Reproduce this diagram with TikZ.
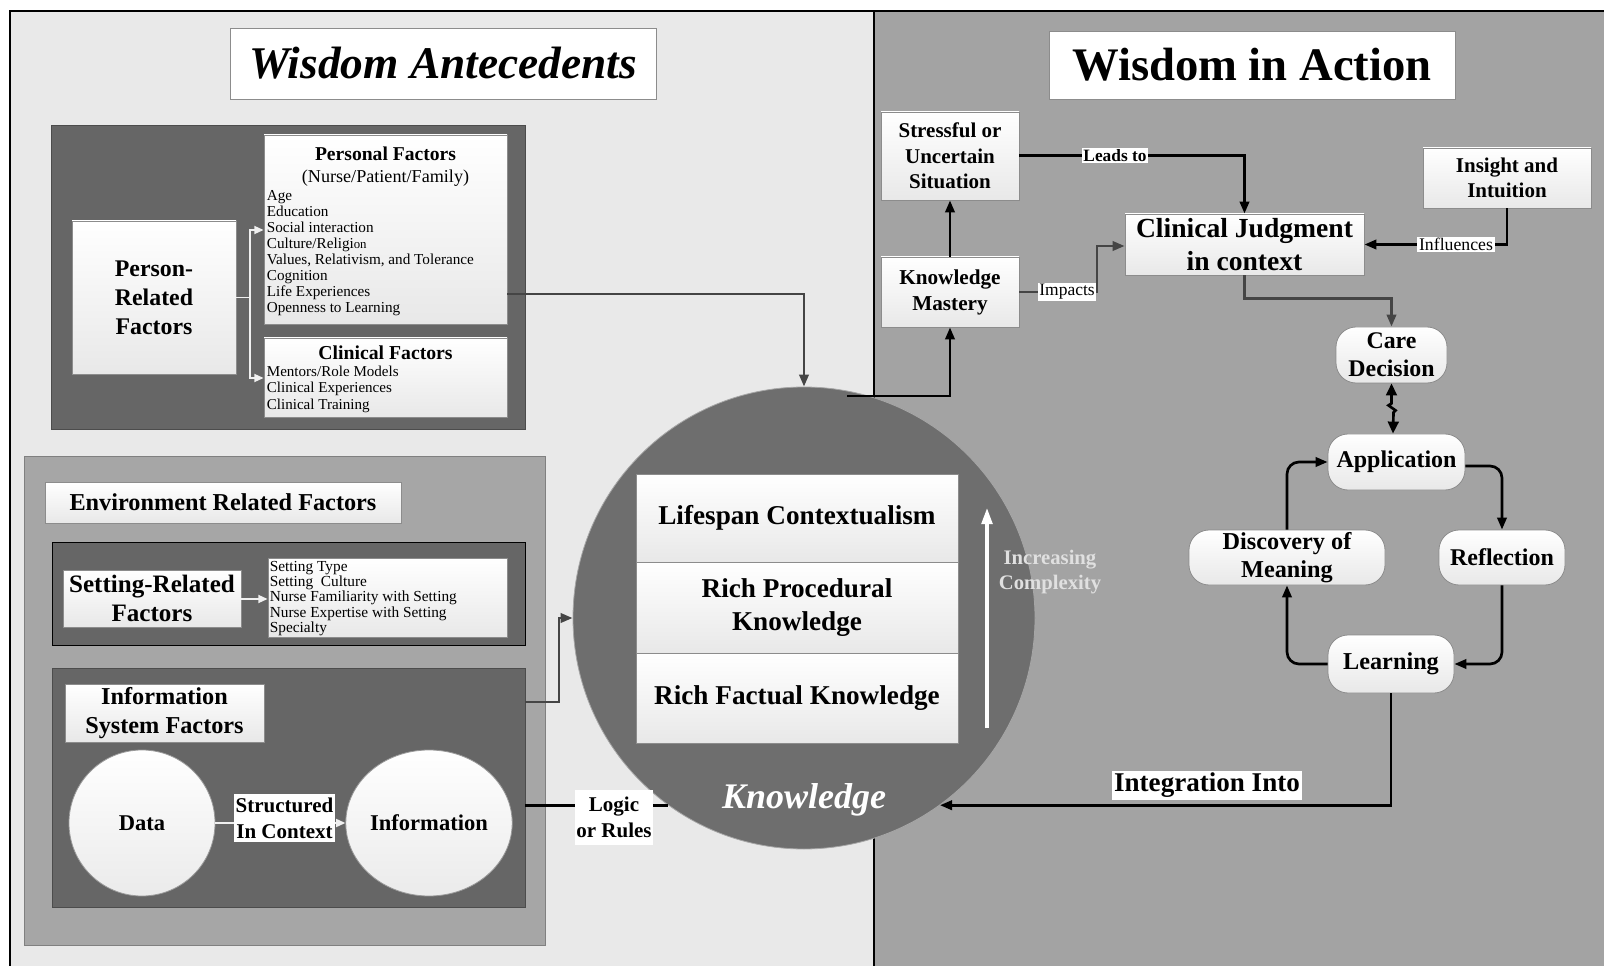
\documentclass[tikz,border=0pt]{standalone}
\usepackage{fontspec}
\setmainfont{Liberation Serif}
\usetikzlibrary{arrows.meta,fit,calc,shapes.geometric}

\definecolor{leftbg}{HTML}{E9E9E9}
\definecolor{rightbg}{HTML}{A3A3A3}
\definecolor{darkpanel}{HTML}{666666}
\definecolor{midpanel}{HTML}{A6A6A6}
\definecolor{knowfill}{HTML}{6E6E6E}
\definecolor{linkgray}{HTML}{454545}
\definecolor{paleline}{HTML}{F0F0F0}

\tikzset{
  x=0.75pt, y=-0.75pt,
  wbox/.style={draw=black!45, line width=0.6pt, top color=white, bottom color=black!9, inner sep=0pt},
  rbox/.style={wbox, rounded corners=15pt},
  titlebox/.style={draw=black!45, line width=0.6pt, fill=white, inner sep=0pt},
  panel/.style={fill=darkpanel, draw=black!70, line width=0.6pt, inner sep=0pt},
  tagbox/.style={fill=white, inner sep=0pt},
  tag/.style={fill=white, inner sep=1.2pt, align=center},
  txt/.style={inner sep=0pt, align=center},
  tipbig/.style={-{Triangle[length=9pt,width=7pt]}},
  blink/.style={draw=black, line width=2pt, tipbig},
  glink/.style={draw=linkgray, line width=2pt, tipbig},
  wlink/.style={draw=paleline, line width=1.4pt, -{Triangle[length=7pt,width=6pt]}},
  listtext/.style={anchor=north west, inner sep=0pt, align=left},
}

\begin{document}
\begin{tikzpicture}
\useasboundingbox (0,0) rectangle (1604,966);

% two halves of the frame
\fill[white] (0,0) rectangle (1604,966);
\fill[leftbg] (10,11) rectangle (874,966);
\fill[rightbg] (874,11) rectangle (1604,966);
\draw[line width=1.6pt] (10,966) -- (10,11) -- (1604,11);
\draw[line width=1.6pt] (874,11) -- (874,966);

% titles
\node[titlebox, fit={(230,28)(656,99)}] (titleA) {};
\node[txt, font=\fontsize{34}{40}\selectfont\bfseries\itshape] (titleA-t) at (titleA) {Wisdom Antecedents};
\node[titlebox, fit={(1049,31)(1455,99)}] (titleB) {};
\node[txt, font=\fontsize{35}{40}\selectfont\bfseries] (titleB-t) at (titleB) {Wisdom in Action};

% person-related factors
\node[panel, fit={(51,125)(525,429)}] (personpanel) {};
\node[wbox, fit={(72,221)(236,374)}] (prf) {};
\node[txt, font=\fontsize{17.9}{21.75}\selectfont\bfseries] (prf-t) at (prf) {Person-\\Related\\Factors};
\node[wbox, fit={(264,135)(507,324)}] (pf) {};
\node[txt, font=\fontsize{14.7}{17}\selectfont\bfseries] (pfhead) at ($(pf.north)+(0,19)$) {Personal Factors};
\node[txt, font=\fontsize{13.6}{16}\selectfont] (pfsub) at ($(pf.north)+(0,44)$) {(Nurse/Patient/Family)};
\node[listtext, font=\fontsize{11.4}{11.95}\selectfont] (pflist) at ($(pf.north west)+(3,56)$)
  {Age\\Education\\Social interaction\\Culture/Religi{\fontsize{9.6}{11}\selectfont on}\\Values, Relativism, and Tolerance\\Cognition\\Life Experiences\\Openness to Learning};
\node[wbox, fit={(264,338)(507,417)}] (cf) {};
\node[txt, font=\fontsize{14.8}{17}\selectfont\bfseries] (cfhead) at ($(cf.north)+(0,15)$) {Clinical Factors};
\node[listtext, font=\fontsize{11.3}{12.4}\selectfont] (cflist) at ($(cf.north west)+(3,28)$)
  {Mentors/Role Models\\Clinical Experiences\\Clinical Training};

\draw[paleline, line width=1.4pt] (prf.east) -- (250,297.5) coordinate (trunk);
\draw[wlink] (trunk) |- (pf.west |- 0,230);
\draw[wlink] (trunk) |- (cf.west |- 0,378);

% environment related factors
\node[fill=midpanel, draw=black!50, line width=0.6pt, inner sep=0pt, fit={(24,456)(545,945)}] (envpanel) {};
\node[wbox, fit={(45,482)(401,523)}] (envtitle) {};
\node[txt, font=\fontsize{18.2}{21}\selectfont\bfseries] (envtitle-t) at (envtitle) {Environment Related Factors};

\node[panel, draw=black, fit={(52,542)(525,645)}] (setpanel) {};
\node[wbox, fit={(63,570)(241,627)}] (setf) {};
\node[txt, font=\fontsize{18.8}{21.75}\selectfont\bfseries] (setf-t) at (setf) {Setting-Related\\Factors};
\node[wbox, fit={(268,558)(507,637)}] (setl) {};
\node[listtext, font=\fontsize{11.5}{11.55}\selectfont] (setltext) at ($(setl.north west)+(2,3)$)
  {Setting Type\\Setting~~Culture\\Nurse Familiarity with Setting\\Nurse Expertise with Setting\\Specialty};
\draw[wlink] (setf.east |- 0,599) -- (setl.west |- 0,599);

\node[panel, fit={(52,668)(525,907)}] (infpanel) {};
\node[wbox, fit={(65,684)(264,742)}] (inftitle) {};
\node[txt, font=\fontsize{18.2}{21.75}\selectfont\bfseries] (inftitle-t) at (inftitle) {Information\\System Factors};
\node[ellipse, draw=black!40, line width=0.6pt, top color=white, bottom color=black!8,
      minimum width=109.5pt, minimum height=109.5pt, inner sep=0pt,
      font=\fontsize{16.9}{20}\selectfont\bfseries] (data) at (142,823) {Data};
\node[ellipse, draw=black!40, line width=0.6pt, top color=white, bottom color=black!8,
      minimum width=112.5pt, minimum height=109.5pt, inner sep=0pt,
      font=\fontsize{16.9}{20}\selectfont\bfseries] (info) at (429,823) {Information};
\draw[wlink] (data.east) -- (info.west);
\node[tagbox, fit={(234,794)(335,842)}] (structured) {};
\node[txt, font=\fontsize{15.75}{19.5}\selectfont\bfseries] (structured-t) at (structured) {Structured\\In Context};

% knowledge circle
\node[circle, fill=knowfill, draw=black!35, line width=0.6pt, minimum size=346.5pt, inner sep=0pt] (kn) at (804,618) {};
\node[wbox, fit={(636,474)(958,562)}] (lifespan) {};
\node[txt, font=\fontsize{20.4}{24.75}\selectfont\bfseries] (lifespan-t) at (lifespan) {Lifespan Contextualism};
\node[wbox, fit={(636,562)(958,653)}] (proc) {};
\node[txt, font=\fontsize{20.4}{24.75}\selectfont\bfseries] (proc-t) at (proc) {Rich Procedural\\Knowledge};
\node[wbox, fit={(636,653)(958,743)}] (fact) {};
\node[txt, font=\fontsize{20.4}{24.75}\selectfont\bfseries] (fact-t) at (fact) {Rich Factual Knowledge};
\coordinate (cxlow) at (987,728);
\coordinate (cxhigh) at (987,508);
\draw[white, line width=2.4pt, -{Triangle[length=12pt,width=8pt]}] (cxlow) -- (cxhigh);
\node[txt, font=\fontsize{15.5}{18.4}\selectfont\bfseries, text=black!12] (cxtext) at (1050,572) {Increasing\\Complexity};
\node[txt, font=\fontsize{27}{30}\selectfont\bfseries\itshape, text=white] (knlabel) at (804,800) {Knowledge};

% links into the circle
\draw[glink] (pf.east |- 0,294) -| (kn.north);
\draw[glink] (infpanel.east |- 0,702) -- (559,702) |- (kn.west);
\draw[line width=2.2pt] (infpanel.east |- kn.234.5) -- (kn.234.5);
\node[tagbox, fit={(575,790)(653,845)}] (logic) {};
\node[txt, font=\fontsize{15.75}{19.5}\selectfont\bfseries] (logic-t) at (logic) {Logic\\or Rules};

% wisdom in action
\node[wbox, fit={(881,112)(1019,200)}] (stress) {};
\node[txt, font=\fontsize{15.75}{19.2}\selectfont\bfseries] (stress-t) at (stress) {Stressful or\\Uncertain\\Situation};
\node[wbox, fit={(881,257)(1019,327)}] (km) {};
\node[txt, font=\fontsize{15.9}{19.5}\selectfont\bfseries] (km-t) at (km) {Knowledge\\Mastery};
\node[wbox, fit={(1125,214)(1364,275)}] (cj) {};
\node[txt, font=\fontsize{20.7}{24.75}\selectfont\bfseries] (cj-t) at (cj) {Clinical Judgment\\in context};
\node[wbox, fit={(1423,148)(1591,208)}] (insight) {};
\node[txt, font=\fontsize{15.75}{18.75}\selectfont\bfseries] (insight-t) at (insight) {Insight and\\Intuition};

\draw[blink] (847,396) coordinate (kmstart) -| (km.south);
\draw[blink] (km.north) -- (stress.south);
\draw[blink] (stress.east |- 0,155.5) -| (cj.north);
\node[tag, font=\fontsize{13}{15}\selectfont\bfseries] (leads) at (1115,155.5) {Leads to};
\draw[glink] (km.east |- 0,292) -- (1097,292) |- (cj.west |- 0,246);
\node[tag, font=\fontsize{13.1}{15}\selectfont] (impacts) at (1067,292) {Impacts};
\draw[blink] (insight.south) |- (cj.east);
\node[tag, font=\fontsize{13.3}{15}\selectfont] (influences) at (1456,244.5) {Influences};

\node[rbox, fit={(1336,327)(1447,383)}] (care) {};
\node[txt, font=\fontsize{17.9}{21}\selectfont\bfseries] (care-t) at (care) {Care\\Decision};
\node[rbox, fit={(1328,434)(1465,490)}] (app) {};
\node[txt, font=\fontsize{18}{21}\selectfont\bfseries] (app-t) at (app) {Application};
\node[rbox, fit={(1189,530)(1385,585)}] (disc) {};
\node[txt, font=\fontsize{18.2}{21}\selectfont\bfseries] (disc-t) at (disc) {Discovery of\\Meaning};
\node[rbox, fit={(1439,530)(1565,585)}] (refl) {};
\node[txt, font=\fontsize{18}{21}\selectfont\bfseries] (refl-t) at (refl) {Reflection};
\node[rbox, fit={(1328,635)(1454,693)}] (learn) {};
\node[txt, font=\fontsize{18.2}{21}\selectfont\bfseries] (learn-t) at (learn) {Learning};

\draw[glink] (cj.south) -- ++(0,23) -| (care.north);
\draw[black, line width=2pt, {Triangle[length=9pt,width=8pt]}-{Triangle[length=9pt,width=8pt]}]
  (care.south) -- ++(0,20) -- ++(-3,2) -- ++(7,5) -- ++(-2,2) -- (app.north -| 1393,0);
\draw[blink, rounded corners=9pt] (app.east |- 0,466) -| (refl.north);
\draw[blink, rounded corners=9pt] (refl.south) |- (learn.east);
\draw[blink, rounded corners=9pt] (learn.west) -| (disc.south);
\draw[blink, rounded corners=9pt] (disc.north) |- (app.west);

\draw[blink] (learn.south) |- (kn.306.8);
\node[tag, anchor=south, inner sep=1.5pt, font=\fontsize{20.3}{23}\selectfont\bfseries] (integ) at (1207,800) {Integration Into};
\end{tikzpicture}
\end{document}
